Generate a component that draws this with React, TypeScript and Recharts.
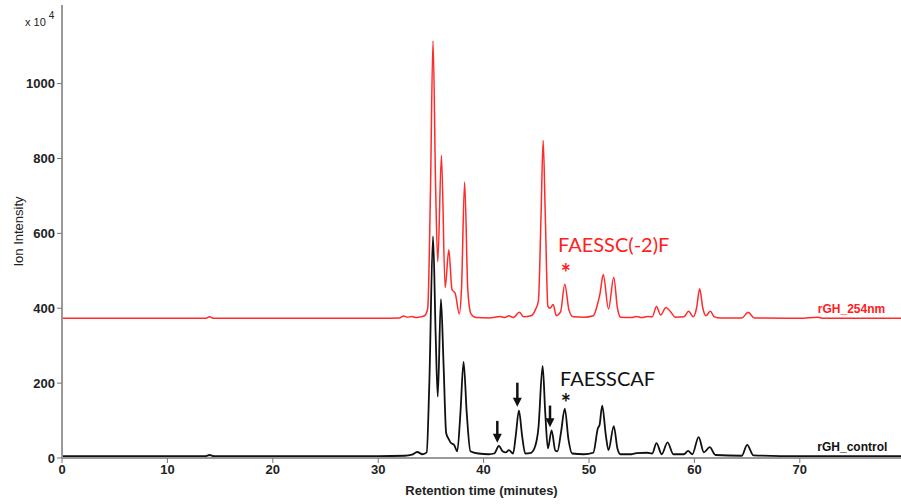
import { LineChart, Line, XAxis, YAxis, ReferenceDot } from 'recharts';

// retention time (min) / intensity (x10^4), rGH_254nm (offset trace)
const redTime = [
  0, 5, 13.6, 14.0, 14.4, 20, 30, 32.0, 32.4, 32.8, 33.2, 33.6, 34.0, 34.4, 34.7, 34.95, 35.2, 35.45,
  35.65, 36.0, 36.35, 36.7, 37.0, 37.3, 37.7, 37.9, 38.2, 38.5, 38.8, 39.3, 40.5, 41.6, 42.0, 42.4,
  42.8, 43.4, 43.8, 44.5, 44.9, 45.2, 45.45, 45.65, 45.85, 46.1, 46.3, 46.6, 46.9, 47.3, 47.7, 48.1,
  48.5, 49.5, 50.4, 50.8, 51.05, 51.35, 51.85, 52.35, 52.7, 53.0, 54.0, 54.5, 55.0, 55.6, 56.0, 56.4,
  56.8, 57.3, 57.7, 58.2, 59.0, 59.45, 59.9, 60.2, 60.5, 60.8, 61.1, 61.5, 61.9, 62.5, 64.5, 65.1,
  65.7, 70, 71.7, 72.2, 79.6,
];
const redValue = [
  373, 373, 373, 377, 373, 373, 373, 374, 379, 376, 378, 375, 377, 380, 400, 700, 1114, 720,
  524, 808, 455, 556, 450, 440, 385, 450, 737, 450, 385, 375, 374, 378, 375, 380,
  375, 389, 377, 380, 395, 420, 650, 848, 650, 405, 400, 410, 380, 390, 464, 395,
  377, 376, 380, 410, 440, 490, 398, 482, 400, 376, 375, 378, 375, 378, 377, 405,
  382, 402, 392, 376, 377, 392, 377, 400, 452, 400, 380, 392, 377, 374, 374, 389,
  374, 373, 376, 373, 373,
];

// rGH_control
const blackTime = [
  0, 10, 13.6, 14.0, 14.4, 20, 30, 32.5, 33.2, 33.7, 34.2, 34.6, 34.85, 35.2, 35.45, 35.65, 35.95,
  36.2, 36.45, 36.7, 36.9, 37.2, 37.5, 37.8, 38.1, 38.4, 38.75, 39.5, 40.5, 41.0, 41.45, 41.8, 42.1,
  42.4, 42.8, 43.05, 43.35, 43.65, 43.95, 44.5, 44.9, 45.2, 45.6, 45.85, 46.1, 46.45, 46.8, 47.0,
  47.35, 47.7, 48.05, 48.4, 49.5, 50.4, 50.85, 51.0, 51.25, 51.6, 51.85, 52.35, 52.7, 53.0, 54.0, 54.5,
  55.5, 56.0, 56.4, 56.9, 57.45, 58.0, 59.0, 59.4, 59.8, 60.4, 60.9, 61.45, 62.0, 64.5, 65.0, 65.6,
  70, 79.6,
];
const blackValue = [
  5, 5, 5, 8, 5, 5, 5, 6, 9, 16, 10, 15, 200, 592, 330, 164, 424,
  250, 66, 50, 40, 35, 18, 120, 257, 120, 18, 12, 10, 12, 32, 18, 15,
  21, 12, 60, 127, 60, 12, 14, 32, 80, 246, 120, 26, 74, 20, 18,
  70, 132, 50, 12, 10, 14, 80, 88, 140, 60, 21, 85, 25, 10, 10, 13,
  14, 12, 40, 10, 42, 10, 10, 19, 10, 56, 15, 29, 8, 6, 35, 7,
  5, 5,
];

const xTicks = [0, 10, 20, 30, 40, 50, 60, 70];
const yTicks = [0, 200, 400, 600, 800, 1000];

const peakLabels = [
  { t: 47.06, v: 551, text: 'FAESSC(-2)F', color: '#ff2020', size: 20 },
  { t: 47.25, v: 191, text: 'FAESSCAF', color: '#111', size: 20 },
  { t: 47.8, v: 493, text: '*', color: '#ff2020', size: 24 },
  { t: 47.8, v: 146, text: '*', color: '#111', size: 24 },
];
const traceNames = [
  { t: 78.1, v: 388, text: 'rGH_254nm', color: '#ff2020' },
  { t: 78.3, v: 20, text: 'rGH_control', color: '#111' },
];
// arrows: tip position (time, intensity) and length in intensity units
const arrows = [
  { t: 41.3, v: 41, len: 58 },
  { t: 43.2, v: 137, len: 64 },
  { t: 46.3, v: 82, len: 58 },
];

const redData = redTime.map((t, i) => ({ t, v: redValue[i] }));
const blackData = blackTime.map((t, i) => ({ t, v: blackValue[i] }));

const tickStyle = { fontFamily: 'Liberation Sans, Arial', fontSize: 13, fontWeight: 'bold', fill: '#222' };

export default function App() {
  return (
    <div style={{ position: 'absolute', left: 0, top: 0, width: 901, height: 504, background: '#fff' }}>
      <div
        style={{
          position: 'absolute',
          left: 25,
          top: 12,
          fontFamily: 'Liberation Sans, Arial',
          fontSize: 11,
          color: '#222',
        }}
      >
        x 10 <sup style={{ fontSize: 10, position: 'relative', top: -2 }}>4</sup>
      </div>
      <LineChart width={901} height={504} margin={{ top: 5, right: 0, left: 0, bottom: 0 }}>
        <XAxis
          type="number"
          dataKey="t"
          domain={[0, 79.6]}
          ticks={xTicks}
          height={46}
          allowDataOverflow
          axisLine={{ stroke: '#999', strokeWidth: 2 }}
          tickLine={{ stroke: '#777' }}
          tickSize={5}
          tick={tickStyle}
          label={(props: any) => {
            const vb = props.viewBox;
            return (
              <text
                x={vb.x + vb.width / 2}
                y={495}
                textAnchor="middle"
                style={{ fontFamily: 'Liberation Sans, Arial', fontSize: 13, fontWeight: 'bold', fill: '#222' }}
              >
                Retention time (minutes)
              </text>
            );
          }}
        />
        <YAxis
          type="number"
          dataKey="v"
          domain={[0, 1210]}
          ticks={yTicks}
          width={62}
          allowDataOverflow
          axisLine={{ stroke: '#999', strokeWidth: 2 }}
          tickLine={{ stroke: '#777' }}
          tickSize={5}
          tick={tickStyle}
          label={(props: any) => {
            const vb = props.viewBox;
            const cy = vb.y + vb.height / 2;
            return (
              <text
                x={23}
                y={cy}
                transform={`rotate(-90, 23, ${cy})`}
                textAnchor="middle"
                style={{ fontFamily: 'Liberation Sans, Arial', fontSize: 13, fill: '#222' }}
              >
                Ion Intensity
              </text>
            );
          }}
        />
        <Line
          data={redData}
          dataKey="v"
          type="monotone"
          stroke="#ff2a2a"
          strokeWidth={1.5}
          dot={false}
          isAnimationActive={false}
        />
        <Line
          data={blackData}
          dataKey="v"
          type="monotone"
          stroke="#111"
          strokeWidth={1.8}
          dot={false}
          isAnimationActive={false}
        />
        {peakLabels.map((p, i) => (
          <ReferenceDot
            key={`pl-${i}`}
            x={p.t}
            y={p.v}
            r={0}
            shape={(s: any) => (
              <text
                x={s.cx}
                y={p.text === '*' ? s.cy + 9 : s.cy}
                textAnchor={p.text === '*' ? 'middle' : 'start'}
                style={{ fontFamily: 'Lato, Open Sans', fontSize: p.size, fill: p.color, fontWeight: p.text === '*' ? 'bold' : 'normal' }}
              >
                {p.text}
              </text>
            )}
          />
        ))}
        {traceNames.map((p, i) => (
          <ReferenceDot
            key={`tn-${i}`}
            x={p.t}
            y={p.v}
            r={0}
            shape={(s: any) => (
              <text
                x={s.cx}
                y={s.cy}
                textAnchor="end"
                style={{ fontFamily: 'Liberation Sans, Arial', fontSize: 12, fontWeight: 'bold', fill: p.color }}
              >
                {p.text}
              </text>
            )}
          />
        ))}
        {arrows.map((a, i) => (
          <ReferenceDot
            key={`ar-${i}`}
            x={a.t}
            y={a.v}
            r={0}
            shape={(s: any) => {
              const h = a.len * 0.375;
              return (
                <g>
                  <line x1={s.cx} y1={s.cy - h} x2={s.cx} y2={s.cy - 7} stroke="#111" strokeWidth={2.5} />
                  <path d={`M${s.cx - 4.5},${s.cy - 9} L${s.cx + 4.5},${s.cy - 9} L${s.cx},${s.cy} Z`} fill="#111" />
                </g>
              );
            }}
          />
        ))}
      </LineChart>
    </div>
  );
}
